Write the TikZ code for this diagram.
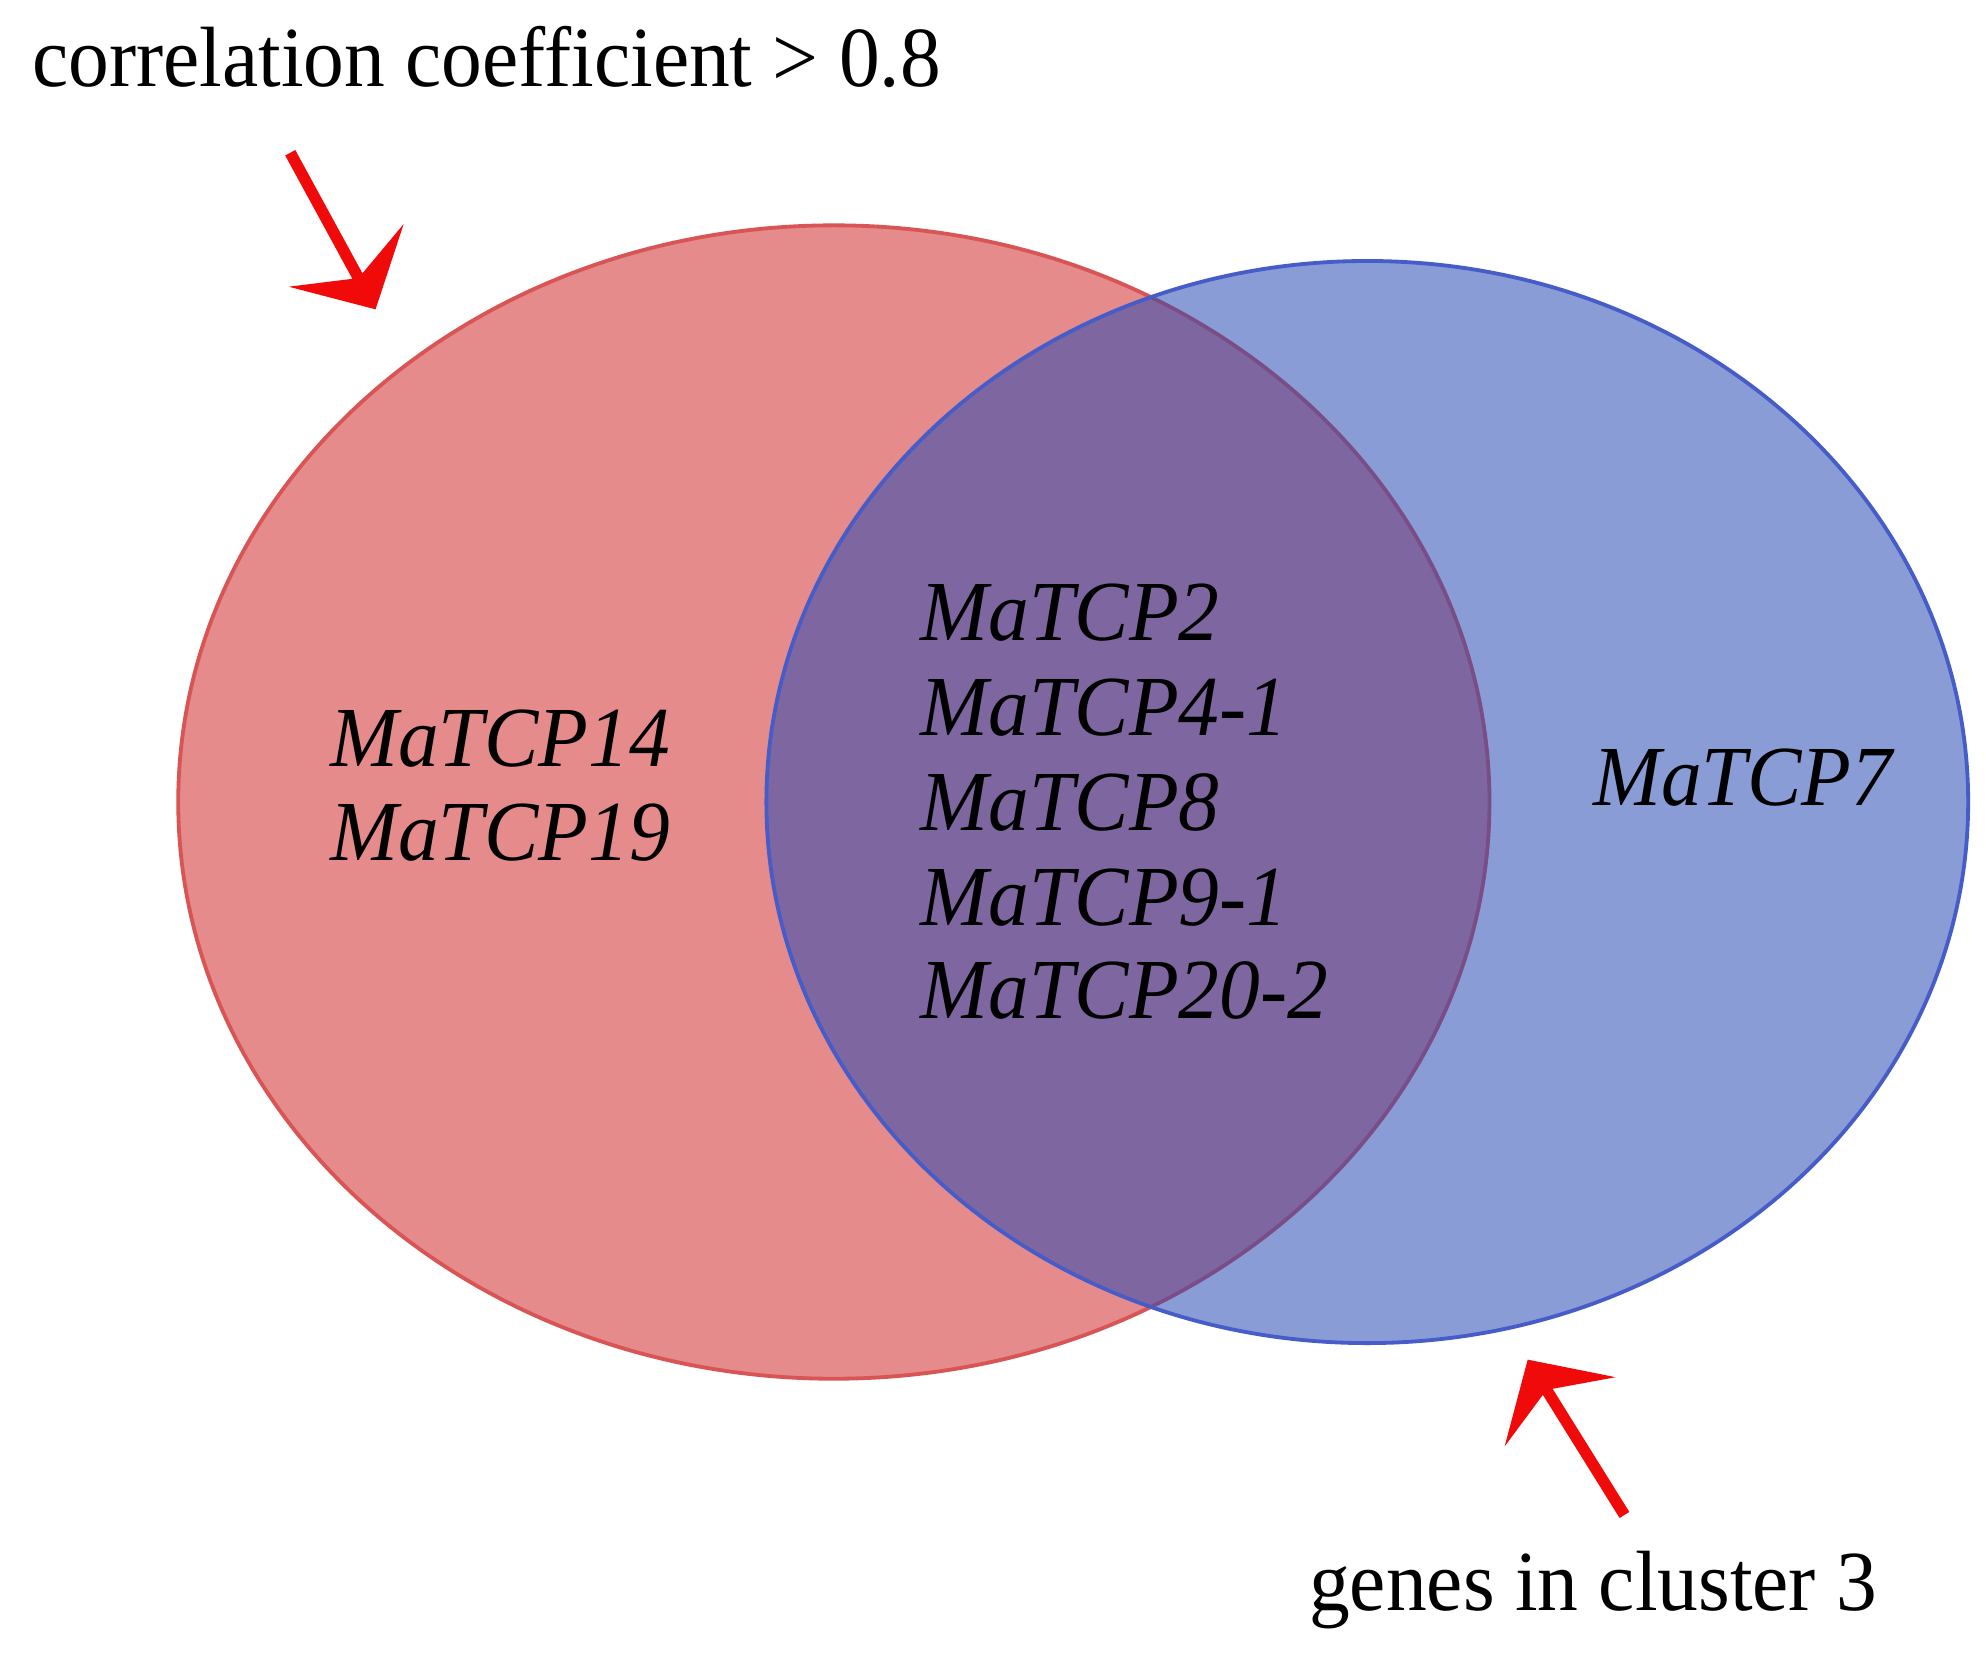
\documentclass[tikz,border=0pt]{standalone}
\usepackage{fontspec}
\setmainfont{Liberation Serif}
\usetikzlibrary{arrows.meta}
\definecolor{redfill}{RGB}{229,139,139}
\definecolor{redline}{RGB}{217,84,84}
\definecolor{bluefill}{RGB}{40,73,179}
\definecolor{blueline}{RGB}{70,92,200}
\definecolor{arrowred}{RGB}{240,10,10}
\begin{document}
\begin{tikzpicture}[x=0.5pt,y=-0.5pt,
  lbl/.style={font=\fontsize{32}{37}\selectfont, anchor=base west, inner sep=0pt, yscale=1.05},
  gene/.style={lbl, font=\fontsize{32}{37}\selectfont\itshape},
  pointer/.style={arrowred, line width=4.5pt, -{Stealth[length=24pt,width=51pt,inset=10pt]}}]
\useasboundingbox (0,0) rectangle (1560,1300);
\fill[white] (0,0) rectangle (1560,1300);
\path[fill=redfill, draw=redline, line width=1.5pt] (655,630) ellipse [x radius=515, y radius=453];
\path[fill=bluefill, fill opacity=0.54, draw=blueline, draw opacity=1, line width=1.5pt] (1074,630) ellipse [x radius=472, y radius=425];
\node[lbl] (top) at (25,68) {correlation coefficient > 0.8};
\node[lbl] (bot) at (1028,1265) {genes in cluster 3};
\node[gene] (g14) at (259,602) {MaTCP14};
\node[gene] (g19) at (259,676) {MaTCP19};
\node[gene] (g2) at (723,503) {MaTCP2};
\node[gene] (g41) at (723,578) {MaTCP4-1};
\node[gene] (g8) at (723,652) {MaTCP8};
\node[gene] (g91) at (723,727) {MaTCP9-1};
\node[gene] (g202) at (723,800) {MaTCP20-2};
\node[gene] (g7) at (1251,633) {MaTCP7};
\coordinate (a1s) at (228,120);
\coordinate (a1e) at (295,243);
\coordinate (a2s) at (1276,1190);
\coordinate (a2e) at (1200,1068);
\draw[pointer] (a1s) -- (a1e);
\draw[pointer] (a2s) -- (a2e);
\end{tikzpicture}
\end{document}
